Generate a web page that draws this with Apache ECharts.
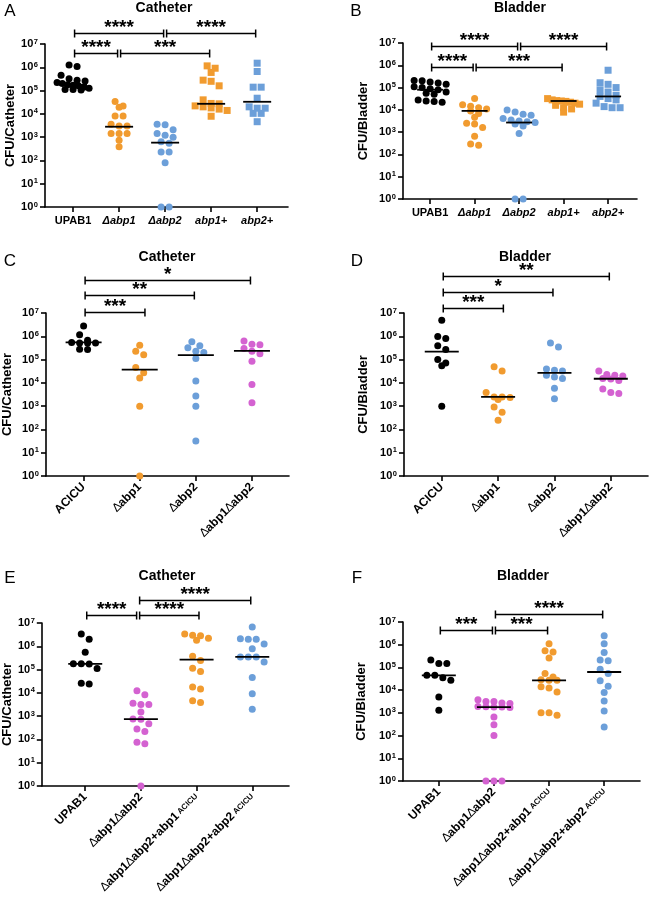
<!DOCTYPE html>
<html><head><meta charset="utf-8">
<script src="https://cdn.jsdelivr.net/npm/echarts@6/dist/echarts.min.js"></script>
<style>html,body{margin:0;padding:0;background:#fff}#c{width:649px;height:902px}</style>
</head><body><div id="c"></div>
<script>
// ---------- tick labels / categories ----------
const labelsAB = ['UPAB1', 'Δabp1', 'Δabp2', 'abp1+', 'abp2+'];
const labelsCD = ['ACICU', 'Δabp1', 'Δabp2', 'Δabp1Δabp2'];
const labelsEF = ['UPAB1', 'Δabp1Δabp2', 'Δabp1Δabp2+abp1_ACICU', 'Δabp1Δabp2+abp2_ACICU'];

// ---------- Panel A (Catheter, CFU) ----------
const A_UPAB1 = [1.26e6, 1.07e6, 4.5e5, 3.2e5, 2.8e5, 2.6e5, 2.2e5, 2.0e5, 1.8e5, 1.7e5, 1.6e5, 1.4e5, 1.25e5, 1.1e5, 1.1e5, 1.05e5];
const A_abp1 = [3.4e4, 2.2e4, 1.9e4, 8.1e3, 8.1e3, 3.6e3, 3.0e3, 3.0e3, 1.45e3, 1.45e3, 1.45e3, 7.4e2, 3.9e2];
const A_abp2 = [3.4e3, 3.6e3, 2.1e3, 1.45e3, 1.2e3, 9.8e2, 6.3e2, 5.4e2, 2.3e2, 2.3e2, 80, 1, 1];
const A_abp1c = [1.15e6, 9.1e5, 6.0e5, 2.8e5, 2.5e5, 1.6e5, 4.0e4, 2.8e4, 2.7e4, 2.2e4, 2.0e4, 1.8e4, 1.6e4, 1.4e4, 7.9e3];
const A_abp2c = [1.5e6, 6.6e5, 1.4e5, 1.4e5, 4.7e4, 2.0e4, 1.75e4, 1.75e4, 1.05e4, 1.05e4, 4.6e3];
const A_medians = [1.75e5, 2.8e3, 5.8e2, 2.7e4, 3.3e4];
const A_brackets = [[0, 2, 3.0e7, '****'], [2, 4, 3.0e7, '****'], [0, 1, 4.1e6, '****'], [1, 3, 4.1e6, '***']];

// ---------- Panel B (Bladder) ----------
const B_UPAB1 = [2.1e5, 2.0e5, 1.8e5, 1.6e5, 1.4e5, 1.1e5, 1.0e5, 8.9e4, 7.9e4, 6.3e4, 5.6e4, 5.0e4, 2.8e4, 2.5e4, 2.4e4, 2.2e4];
const B_abp1 = [3.2e4, 1.7e4, 1.45e4, 1.25e4, 1.1e4, 8.9e3, 6.9e3, 4.6e3, 2.5e3, 2.3e3, 1.6e3, 6.6e2, 2.9e2, 2.6e2];
const B_abp2 = [9.8e3, 8.1e3, 6.3e3, 5.8e3, 4.1e3, 3.5e3, 3.2e3, 2.9e3, 2.7e3, 2.3e3, 1.9e3, 8.7e2, 1, 1];
const B_abp1c = [3.2e4, 2.8e4, 2.6e4, 2.5e4, 2.4e4, 2.2e4, 2.0e4, 1.8e4, 1.6e4, 1.25e4, 1.1e4, 7.9e3];
const B_abp2c = [6.0e5, 1.65e5, 1.4e5, 1.0e5, 7.9e4, 6.3e4, 4.5e4, 4.0e4, 3.2e4, 2.8e4, 2.0e4, 1.4e4, 1.25e4, 1.25e4];
const B_medians = [8.0e4, 9.0e3, 2.7e3, 2.5e4, 4.0e4];
const B_brackets = [[0, 2, 7.0e6, '****'], [2, 4, 7.0e6, '****'], [0, 1, 8.0e5, '****'], [1, 3, 8.0e5, '***']];

// ---------- Panel C (Catheter) ----------
const C_ACICU = [2.75e6, 1.17e6, 6.8e5, 5.2e5, 5.2e5, 5.2e5, 5.4e5, 2.8e5, 2.7e5];
const C_abp1 = [4.1e5, 2.3e5, 1.6e5, 4.6e4, 2.7e4, 1.6e4, 1.0e3, 1];
const C_abp2 = [5.8e5, 3.2e5, 3.9e5, 2.3e5, 2.0e5, 1.1e5, 1.2e4, 2.7e3, 1.0e3, 32];
const C_dd = [6.3e5, 4.3e5, 4.6e5, 3.0e5, 2.3e5, 1.8e5, 8.5e4, 8.5e3, 1.4e3];
const C_medians = [5.5e5, 3.7e4, 1.55e5, 2.35e5];
const C_brackets = [[0, 3, 2.6e8, '*'], [0, 2, 5.9e7, '**'], [0, 1.12, 1.1e7, '***']];

// ---------- Panel D (Bladder) ----------
const D_ACICU = [4.9e6, 9.8e5, 8.0e5, 3.9e5, 2.7e5, 1.0e5, 7.2e4, 5.4e4, 1.0e3];
const D_abp1 = [4.9e4, 3.2e4, 3.9e3, 2.5e3, 2.5e3, 2.35e3, 1.95e3, 9.3e2, 5.5e2, 2.5e2];
const D_abp2 = [5.1e5, 3.5e5, 3.9e4, 3.5e4, 3.2e4, 2.1e4, 1.8e4, 1.55e4, 5.8e3, 2.1e3];
const D_dd = [3.2e4, 2.3e4, 2.1e4, 1.95e4, 1.55e4, 1.45e4, 1.25e4, 5.4e3, 3.9e3, 3.5e3];
const D_medians = [2.2e5, 2.5e3, 2.7e4, 1.5e4];
const D_brackets = [[0, 3, 3.9e8, '**'], [0, 2, 8.0e7, '*'], [0, 1.12, 1.6e7, '***']];

// ---------- Panel E (Catheter) ----------
const E_UPAB1 = [3.4e6, 2.0e6, 5.6e5, 1.8e5, 1.8e5, 1.75e5, 1.1e5, 2.6e4, 2.4e4];
const E_dd = [1.23e4, 8.3e3, 3.6e3, 3.2e3, 3.2e3, 1.5e3, 7.6e2, 7.4e2, 4.7e2, 2.8e2, 2.2e2, 76, 65, 1];
const E_abp1 = [3.4e6, 3.0e6, 2.8e6, 2.2e6, 1.8e6, 3.7e5, 2.45e5, 1.15e5, 8.3e4, 1.8e4, 1.45e4, 4.6e3, 3.9e3];
const E_abp2 = [6.8e6, 2.1e6, 2.0e6, 2.0e6, 1.26e6, 7.9e5, 3.5e5, 3.5e5, 3.5e5, 2.1e5, 4.6e4, 9.1e3, 2.0e3];
const E_medians = [1.75e5, 7.5e2, 2.65e5, 3.5e5];
const E_brackets = [[0.95, 3, 9.7e7, '****'], [0, 0.95, 2.2e7, '****'], [0.95, 2.07, 2.2e7, '****']];

// ---------- Panel F (Bladder) ----------
const F_UPAB1 = [2.1e5, 1.5e5, 1.5e5, 4.5e4, 4.5e4, 3.5e4, 2.7e4, 5.0e3, 1.3e3];
const F_dd = [3.8e3, 3.2e3, 3.2e3, 2.75e3, 2.6e3, 1.9e3, 1.85e3, 1.8e3, 1.8e3, 1.7e3, 6.6e2, 3.0e2, 1.0e2, 1, 1, 1];
const F_abp1 = [1.1e6, 5.4e5, 4.8e5, 2.6e5, 5.4e4, 3.8e4, 2.9e4, 2.7e4, 2.7e4, 1.4e4, 1.25e4, 8.3e3, 1.0e3, 1.0e3, 7.8e2];
const F_abp2 = [2.45e6, 1.1e6, 4.5e5, 2.1e5, 1.95e5, 8.3e4, 5.4e4, 2.6e4, 1.5e4, 7.8e3, 3.3e3, 1.2e3, 2.4e2];
const F_medians = [4.5e4, 1.8e3, 2.7e4, 6.3e4];
const F_brackets = [[1, 3, 2.2e7, '****'], [0, 1, 4.4e6, '***'], [1, 2, 4.4e6, '***']];

// ---------- styling ----------
const FONT = '"Liberation Sans", Arial, Helvetica, sans-serif';
const K = '#000000', O = '#F19B2F', BL = '#6C9FD9', P = '#D462D1';

const panels = [
  { labels: labelsAB, italic: true, groups: [A_UPAB1, A_abp1, A_abp2, A_abp1c, A_abp2c], colors: [K, O, BL, O, BL],
    symbols: ['circle', 'circle', 'circle', 'rect', 'rect'], medians: A_medians, brackets: A_brackets,
    grid: { left: 45, top: 44, width: 243, height: 163 }, xr: [-0.61, 4.67], yName: 'CFU/Catheter', nameGap: 27, rotate: 0, medHalf: 14,
    title: 'Catheter', tx: 164, ty: 8, letter: 'A', lx: 10, ly: 11 },
  { labels: labelsAB, italic: true, groups: [B_UPAB1, B_abp1, B_abp2, B_abp1c, B_abp2c], colors: [K, O, BL, O, BL],
    symbols: ['circle', 'circle', 'circle', 'rect', 'rect'], medians: B_medians, brackets: B_brackets,
    grid: { left: 403, top: 43, width: 234, height: 156 }, xr: [-0.61, 4.65], yName: 'CFU/Bladder', nameGap: 33, rotate: 0, medHalf: 13,
    title: 'Bladder', tx: 520, ty: 8, letter: 'B', lx: 356, ly: 11 },
  { labels: labelsCD, italic: false, groups: [C_ACICU, C_abp1, C_abp2, C_dd], colors: [K, O, BL, P],
    symbols: ['circle', 'circle', 'circle', 'circle'], medians: C_medians, brackets: C_brackets,
    grid: { left: 45, top: 313, width: 244, height: 163 }, xr: [-0.67, 3.66], yName: 'CFU/Catheter', nameGap: 32, rotate: 45, medHalf: 18,
    title: 'Catheter', tx: 167, ty: 257, letter: 'C', lx: 10, ly: 261 },
  { labels: labelsCD, italic: false, groups: [D_ACICU, D_abp1, D_abp2, D_dd], colors: [K, O, BL, P],
    symbols: ['circle', 'circle', 'circle', 'circle'], medians: D_medians, brackets: D_brackets,
    grid: { left: 404, top: 313, width: 244, height: 163 }, xr: [-0.67, 3.66], yName: 'CFU/Bladder', nameGap: 34, rotate: 45, medHalf: 17,
    title: 'Bladder', tx: 525, ty: 257, letter: 'D', lx: 357, ly: 261 },
  { labels: labelsEF, italic: false, groups: [E_UPAB1, E_dd, E_abp1, E_abp2], colors: [K, P, O, BL],
    symbols: ['circle', 'circle', 'circle', 'circle'], medians: E_medians, brackets: E_brackets,
    grid: { left: 39, top: 623, width: 250, height: 163 }, xr: [-0.78, 3.66], yName: 'CFU/Catheter', nameGap: 25, rotate: 45, medHalf: 17,
    title: 'Catheter', tx: 167, ty: 576, letter: 'E', lx: 10, ly: 578 },
  { labels: labelsEF, italic: false, groups: [F_UPAB1, F_dd, F_abp1, F_abp2], colors: [K, P, O, BL],
    symbols: ['circle', 'circle', 'circle', 'circle'], medians: F_medians, brackets: F_brackets,
    grid: { left: 403, top: 622, width: 237, height: 159 }, xr: [-0.65, 3.65], yName: 'CFU/Bladder', nameGap: 35, rotate: 45, medHalf: 17,
    title: 'Bladder', tx: 523, ty: 576, letter: 'F', lx: 357, ly: 578 }
];

function makeRich(sz) {
  return {
    b: { fontFamily: FONT, fontSize: sz, fontWeight: 'bold', color: '#000' },
    i: { fontFamily: FONT, fontSize: sz, fontWeight: 'bold', fontStyle: 'italic', color: '#000' },
    d: { fontFamily: FONT, fontSize: sz, fontWeight: 'normal', color: '#000' },
    sub: { fontFamily: FONT, fontSize: 8, fontWeight: 'bold', color: '#000', padding: [0, 0, 0, 2] },
    t: { fontFamily: FONT, fontSize: 11, fontWeight: 'bold', color: '#000', lineHeight: 13 },
    s: { fontFamily: FONT, fontSize: 7.5, fontWeight: 'bold', color: '#000', lineHeight: 13, verticalAlign: 'top', padding: [0, 0, 0, 0.5] }
  };
}

function fmtLabel(txt, italic) {
  if (!txt) return '';
  if (italic) {
    return /^[A-Z0-9]+$/.test(txt) ? '{b|' + txt + '}' : '{i|' + txt + '}';
  }
  const parts = txt.split('_');
  let out = '';
  parts[0].split(/(Δ)/).forEach(seg => {
    if (!seg) return;
    out += seg === 'Δ' ? '{d|\u2206}' : '{b|' + seg + '}';
  });
  if (parts[1]) out += '{sub|' + parts[1] + '}';
  return out;
}

// simple dot-plot (beeswarm) arrangement: points close in log value share a row
function swarm(values, step, tol, maxHalf) {
  const idx = values.map((v, i) => i).sort((a, b) => values[b] - values[a]);
  const off = new Array(values.length).fill(0);
  let i = 0;
  while (i < idx.length) {
    const start = Math.log10(values[idx[i]]);
    let j = i;
    while (j < idx.length && start - Math.log10(values[idx[j]]) <= tol) j++;
    const k = j - i;
    let st = step;
    if (k > 1 && (k - 1) * st / 2 > maxHalf) st = 2 * maxHalf / (k - 1);
    for (let m = 0; m < k; m++) off[idx[i + m]] = (m - (k - 1) / 2) * st;
    i = j;
  }
  return off;
}

const option = { animation: false, backgroundColor: '#fff', grid: [], xAxis: [], yAxis: [], series: [], graphic: [] };
const axisColor = { color: '#000', width: 1.6 };

panels.forEach((p, gi) => {
  option.grid.push(Object.assign({}, p.grid));
  const ppu = p.grid.width / (p.xr[1] - p.xr[0]);
  const cats = p.labels.map((_, i) => i);
  const rich = makeRich(p.rotate ? 12 : 11);
  option.xAxis.push({
    type: 'value', gridIndex: gi, min: p.xr[0], max: p.xr[1], splitLine: { show: false },
    axisLine: { show: true, onZero: false, lineStyle: axisColor },
    axisTick: { show: true, customValues: cats, length: 5, lineStyle: axisColor },
    axisLabel: { customValues: cats, formatter: v => fmtLabel(p.labels[Math.round(v)], p.italic), rich: rich,
      rotate: p.rotate, margin: p.rotate ? 9 : 8, hideOverlap: false }
  });
  option.yAxis.push({
    type: 'log', logBase: 10, gridIndex: gi, min: 1, max: 1e7, splitLine: { show: false },
    axisLine: { show: true, onZero: false, lineStyle: axisColor },
    axisTick: { show: true, length: 5, lineStyle: axisColor },
    axisLabel: { margin: 7, formatter: v => '{t|10}{s|' + Math.round(Math.log10(v)) + '}', rich: rich },
    name: p.yName, nameLocation: 'middle', nameRotate: 90, nameGap: p.nameGap,
    nameTextStyle: { fontFamily: FONT, fontSize: 13, fontWeight: 'bold', color: '#000' }
  });
  p.groups.forEach((vals, k) => {
    const off = swarm(vals, 8 / ppu, 0.25, 16 / ppu);
    option.series.push({
      type: 'scatter', xAxisIndex: gi, yAxisIndex: gi, symbol: p.symbols[k], symbolSize: 7, clip: false,
      itemStyle: { color: p.colors[k], opacity: 1 }, silent: true, z: 2,
      data: vals.map((v, j) => [k + off[j], v])
    });
  });
  option.series.push({
    type: 'custom', xAxisIndex: gi, yAxisIndex: gi, z: 3, silent: true,
    data: p.medians.map((m, k) => [k, m]),
    renderItem: (params, api) => {
      const c = api.coord([api.value(0), api.value(1)]);
      return { type: 'line', shape: { x1: c[0] - p.medHalf, y1: c[1], x2: c[0] + p.medHalf, y2: c[1] },
        style: { stroke: '#000', lineWidth: 1.8 } };
    }
  });
  option.series.push({
    type: 'custom', xAxisIndex: gi, yAxisIndex: gi, z: 4, silent: true, clip: false,
    data: p.brackets.map(b => [b[0], b[1], b[2]]),
    renderItem: (params, api) => {
      const p1 = api.coord([api.value(0), api.value(2)]);
      const p2 = api.coord([api.value(1), api.value(2)]);
      const a = p1[0] + 1.5, b = p2[0] - 1.5, y = Math.round(p1[1]) + 0.5;
      const st = { stroke: '#000', lineWidth: 1.5 };
      return { type: 'group', children: [
        { type: 'line', shape: { x1: a, y1: y, x2: b, y2: y }, style: st },
        { type: 'line', shape: { x1: a, y1: y - 4, x2: a, y2: y + 4 }, style: st },
        { type: 'line', shape: { x1: b, y1: y - 4, x2: b, y2: y + 4 }, style: st },
        { type: 'text', style: { text: p.brackets[params.dataIndex][3], x: (a + b) / 2, y: y - 6,
          align: 'center', verticalAlign: 'middle', font: 'bold 19px ' + FONT, fill: '#000' } }
      ] };
    }
  });
  option.graphic.push({ type: 'text', x: p.tx, y: p.ty, style: { text: p.title, align: 'center', verticalAlign: 'middle',
    font: 'bold 14px ' + FONT, fill: '#000' } });
  option.graphic.push({ type: 'text', x: p.lx, y: p.ly, style: { text: p.letter, align: 'center', verticalAlign: 'middle',
    font: '17px ' + FONT, fill: '#000' } });
});

const chart = echarts.init(document.getElementById('c'), null, { renderer: 'canvas' });
chart.setOption(option);
</script>
</body></html>
